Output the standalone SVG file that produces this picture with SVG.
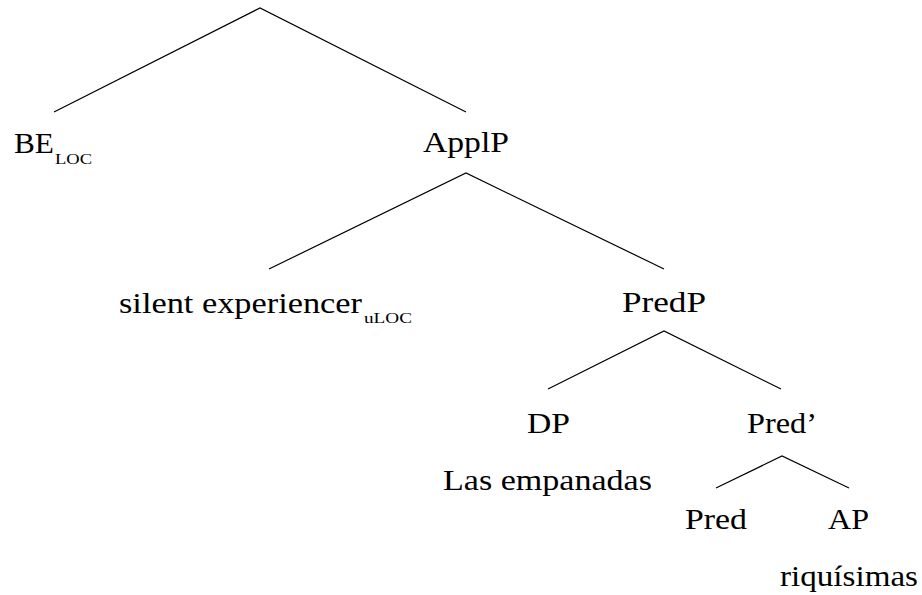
<svg xmlns="http://www.w3.org/2000/svg" width="922" height="595" viewBox="0 0 922 595">
<style>
.t{font-family:"Liberation Serif","DejaVu Serif",serif;font-size:30px;fill:#000}
.s{font-family:"Liberation Serif","DejaVu Serif",serif;font-size:15px;fill:#000}
.e{stroke:#000;stroke-width:1.2;fill:none}
</style>
<rect width="922" height="595" fill="#fff"/>
<g id="connectors">
<path class="e" d="M54,112 L260,8 L466,112"/>
<path class="e" d="M269,269 L466,173 L664,269"/>
<path class="e" d="M548,389 L664,331 L781,389"/>
<path class="e" d="M716,488 L782,456 L849,488"/>
</g>
<g id="BE_LOC"><text class="t" x="14" y="153" textLength="40" lengthAdjust="spacingAndGlyphs">BE</text><text class="s" x="55" y="164" textLength="37" lengthAdjust="spacingAndGlyphs">LOC</text></g>
<g id="ApplP"><text class="t" x="423" y="152" textLength="86" lengthAdjust="spacingAndGlyphs">ApplP</text></g>
<g id="silent_experiencer"><text class="t" x="119" y="313" textLength="243" lengthAdjust="spacingAndGlyphs">silent experiencer</text><text class="s" x="364" y="323" textLength="48" lengthAdjust="spacingAndGlyphs">uLOC</text></g>
<g id="PredP"><text class="t" x="622" y="312" textLength="84" lengthAdjust="spacingAndGlyphs">PredP</text></g>
<g id="DP"><text class="t" x="527" y="433" textLength="43" lengthAdjust="spacingAndGlyphs">DP</text><text class="t" x="443" y="490" textLength="209" lengthAdjust="spacingAndGlyphs">Las empanadas</text></g>
<g id="PredBar"><text class="t" x="747" y="433" textLength="70" lengthAdjust="spacingAndGlyphs">Pred’</text></g>
<g id="Pred"><text class="t" x="685" y="529" textLength="62" lengthAdjust="spacingAndGlyphs">Pred</text></g>
<g id="AP"><text class="t" x="828" y="529" textLength="41" lengthAdjust="spacingAndGlyphs">AP</text><text class="t" x="780" y="586" textLength="138" lengthAdjust="spacingAndGlyphs">riquísimas</text></g>
</svg>
